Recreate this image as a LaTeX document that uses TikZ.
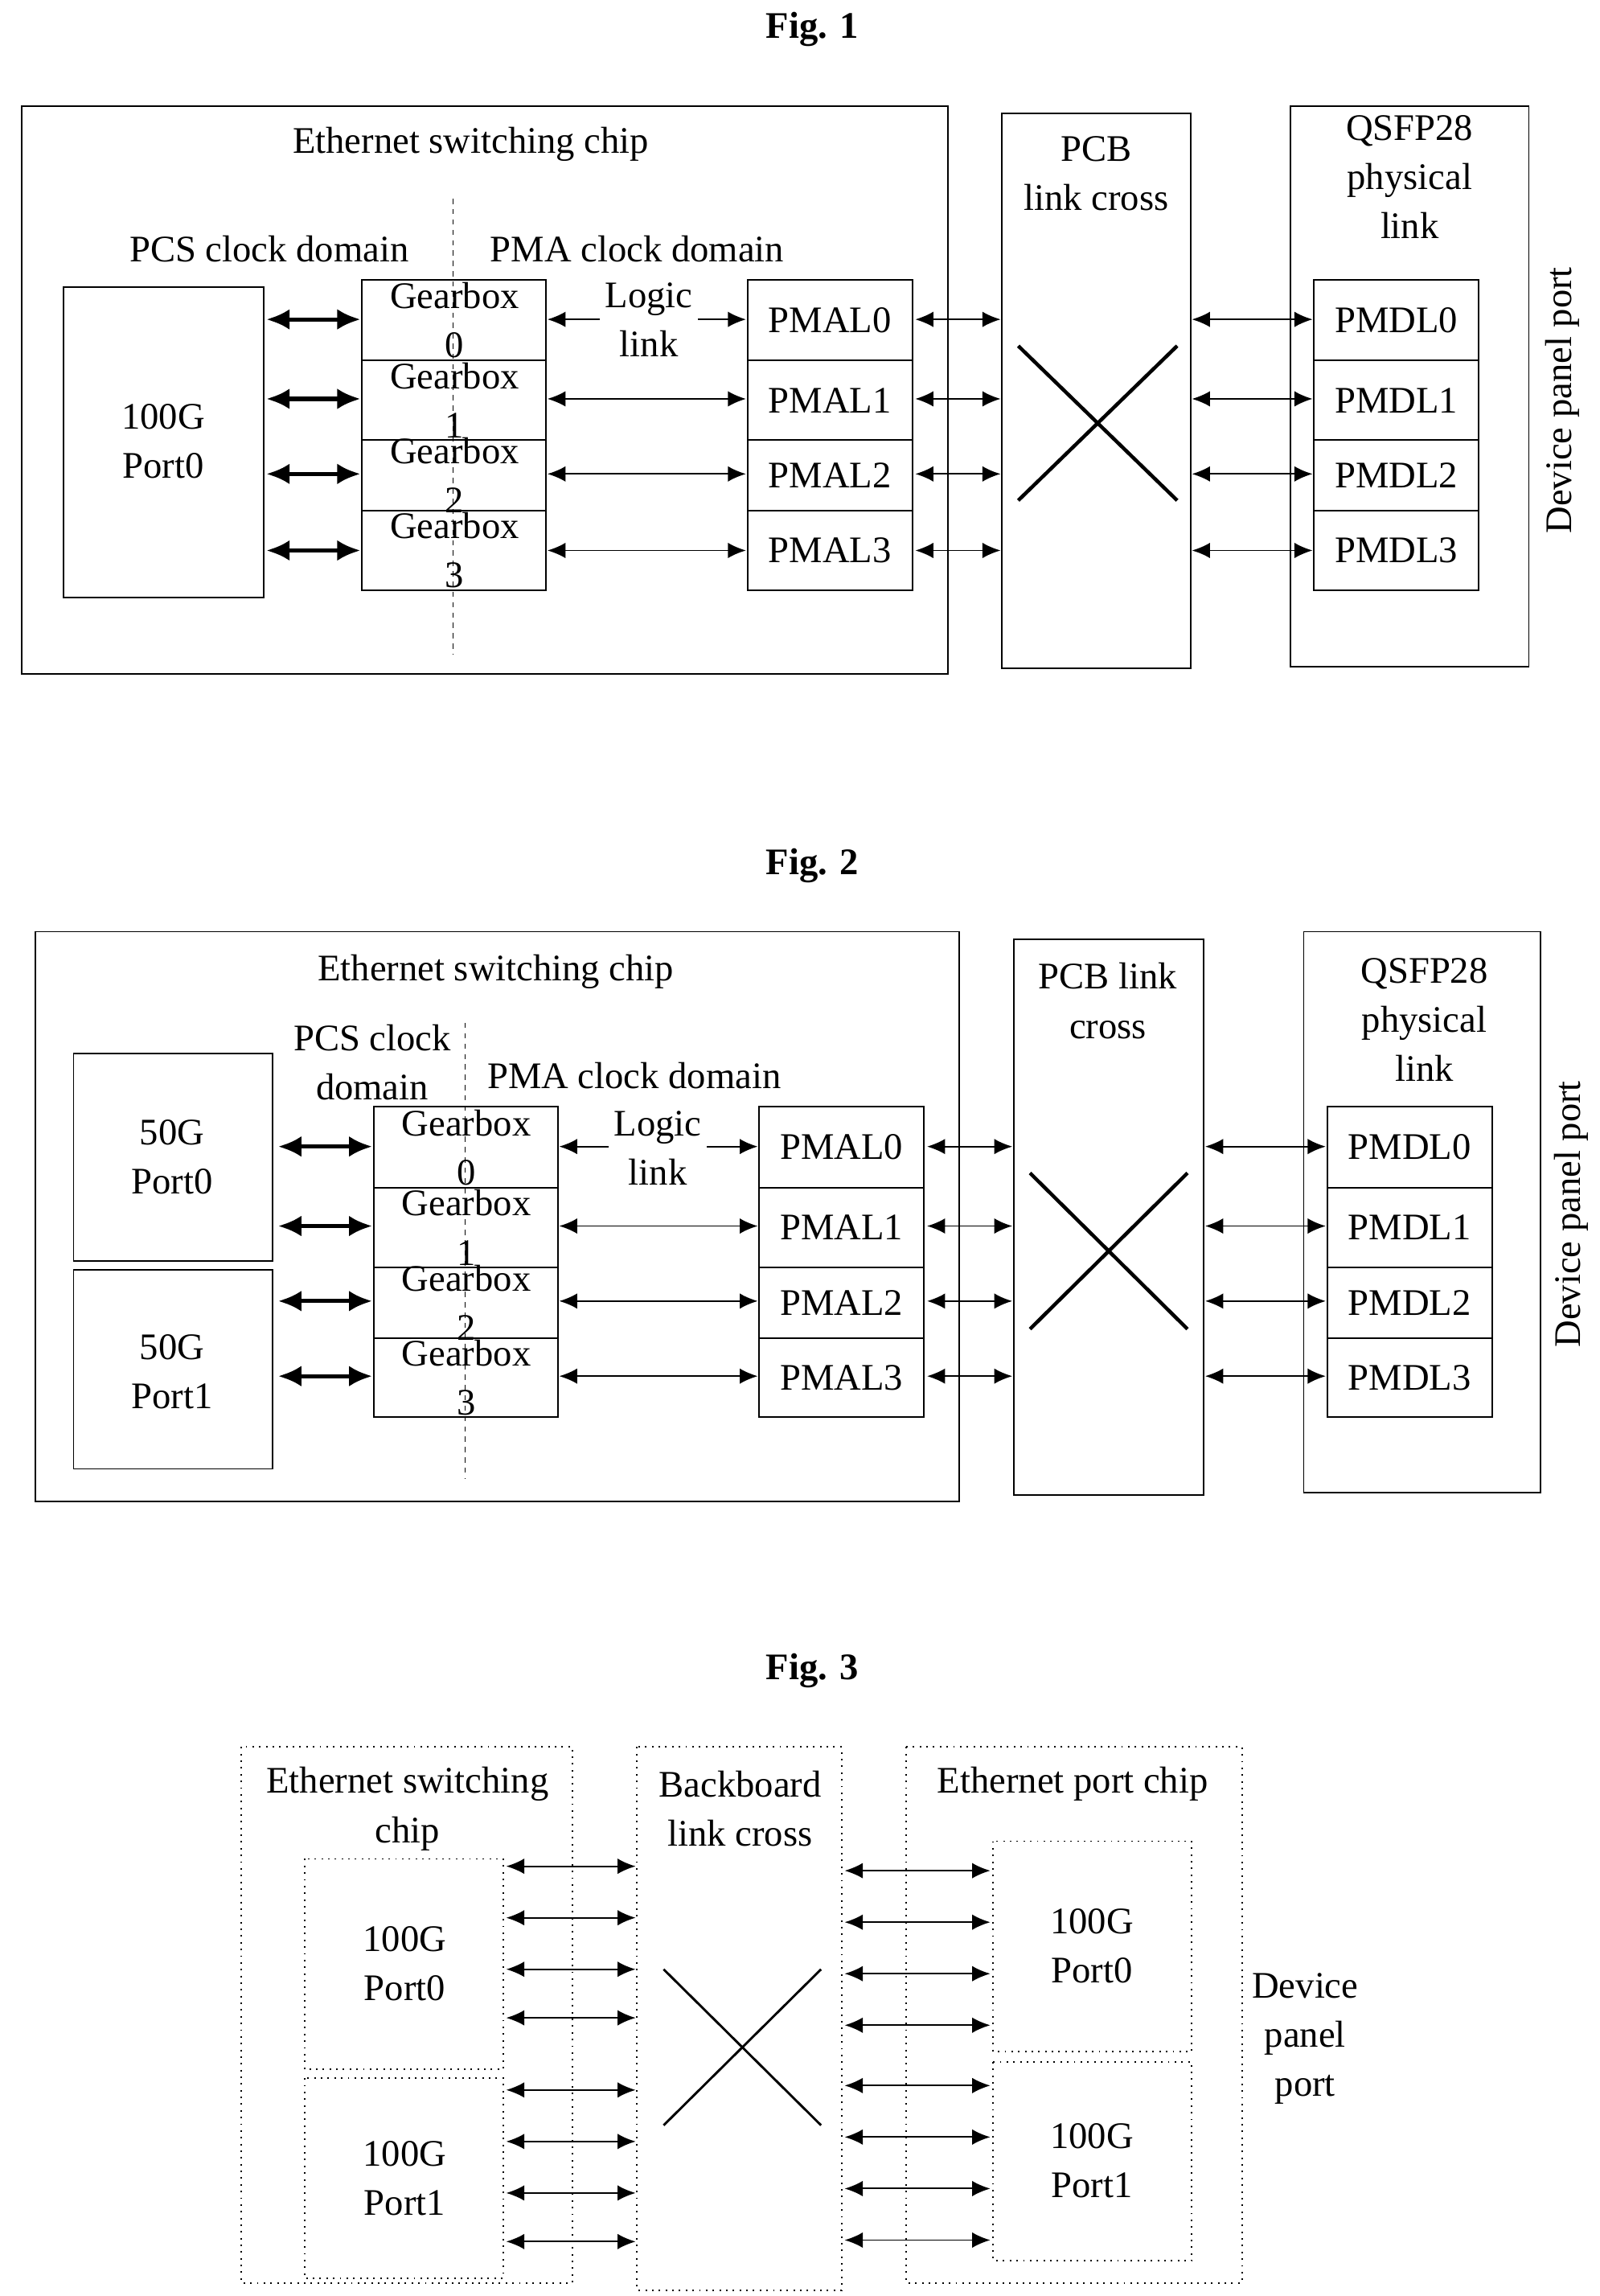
\documentclass[tikz,border=0pt]{standalone}
\usepackage{fontspec}
\setmainfont{Liberation Serif}
\usetikzlibrary{arrows.meta}
\begin{document}
\begin{tikzpicture}[x=0.02cm,y=-0.02cm,
  box/.style={draw,line width=0.6pt},
  dbox/.style={draw,line width=0.6pt,dotted},
  txt/.style={font=\fontsize{14.5}{19}\selectfont,align=center,inner sep=0pt},
  ttl/.style={font=\bfseries\fontsize{14.5}{17}\selectfont},
  thin/.style={{Latex[length=7pt,width=6pt]}-{Latex[length=7pt,width=6pt]},line width=0.6pt},
  thick/.style={{Latex[length=9pt,width=8pt]}-{Latex[length=9pt,width=8pt]},line width=1.6pt},
  cross/.style={line width=1.4pt}]
\useasboundingbox (0,0) rectangle (1087,1560);
% ---------- Fig 1
\node[ttl] (t1) at (552,20) {Fig. 1};
\draw[box] (15,72) rectangle (644,458);
\node[txt] (c1) at (320,98) {Ethernet switching chip};
\draw[dash pattern=on 2pt off 2pt,line width=0.4pt] (308,135) -- (308,445);
\node[txt] (pcs1) at (183,169) {PCS clock domain};
\node[txt] (pma1) at (433,169) {PMA clock domain};
\draw[box] (43,195) rectangle (179,406);
\node[txt] (p1) at (111,300) {100G\\Port0};
\foreach \a/\b/\i in {190/245/0,245/299/1,299/347/2,347/401/3}{
  \draw[box] (246,\a) rectangle (371,\b);
  \node[txt] (g1\i) at (309,{(\a+\b)/2}) {Gearbox\\\i};
  \draw[box] (508,\a) rectangle (620,\b);
  \node[txt] (pmal1\i) at (564,{(\a+\b)/2}) {PMAL\i};
  \draw[box] (893,\a) rectangle (1005,\b);
  \node[txt] (pmdl1\i) at (949,{(\a+\b)/2}) {PMDL\i};
}
\foreach \y in {217,271,322,374}{
  \draw[thick] (181,\y) -- (245,\y);
  \draw[thin] (372,\y) -- (507,\y);
  \draw[thin] (622,\y) -- (680,\y);
  \draw[thin] (810,\y) -- (892,\y);
}
\node[txt,fill=white,inner sep=2pt] (ll1) at (441,217) {Logic\\link};
\draw[box] (681,77) rectangle (809,454);
\node[txt] (pcb1) at (745,118) {PCB\\link cross};
\draw[cross] (692,235) -- (800,340) (692,340) -- (800,235);
\draw[box] (877,72) rectangle (1039,453);
\node[txt] (q1) at (958,120) {QSFP28\\physical\\link};
\node[txt,rotate=90] (d1) at (1062,272) {Device panel port};
% ---------- Fig 2
\node[ttl] (t2) at (552,588) {Fig. 2};
\draw[box] (24,633) rectangle (652,1020);
\node[txt] (c2) at (337,660) {Ethernet switching chip};
\draw[dash pattern=on 2pt off 2pt,line width=0.4pt] (316,695) -- (316,1005);
\node[txt] (pcs2) at (253,722) {PCS clock\\domain};
\node[txt] (pma2) at (431,731) {PMA clock domain};
\draw[box] (50,716) rectangle (185,857);
\node[txt] (p20) at (117,786) {50G\\Port0};
\draw[box] (50,863) rectangle (185,998);
\node[txt] (p21) at (117,932) {50G\\Port1};
\foreach \a/\b/\i in {752/807/0,807/861/1,861/909/2,909/963/3}{
  \draw[box] (254,\a) rectangle (379,\b);
  \node[txt] (g2\i) at (317,{(\a+\b)/2}) {Gearbox\\\i};
  \draw[box] (516,\a) rectangle (628,\b);
  \node[txt] (pmal2\i) at (572,{(\a+\b)/2}) {PMAL\i};
  \draw[box] (902,\a) rectangle (1014,\b);
  \node[txt] (pmdl2\i) at (958,{(\a+\b)/2}) {PMDL\i};
}
\foreach \y in {779,833,884,935}{
  \draw[thick] (189,\y) -- (253,\y);
  \draw[thin] (380,\y) -- (515,\y);
  \draw[thin] (630,\y) -- (688,\y);
  \draw[thin] (819,\y) -- (901,\y);
}
\node[txt,fill=white,inner sep=2pt] (ll2) at (447,780) {Logic\\link};
\draw[box] (689,638) rectangle (818,1016);
\node[txt] (pcb2) at (753,680) {PCB link\\cross};
\draw[cross] (700,797) -- (807,903) (700,903) -- (807,797);
\draw[box] (886,633) rectangle (1047,1014);
\node[txt] (q2) at (968,693) {QSFP28\\physical\\link};
\node[txt,rotate=90] (d2) at (1068,825) {Device panel port};
% ---------- Fig 3
\node[ttl] (t3) at (552,1135) {Fig. 3};
\draw[dbox] (164,1187) rectangle (389,1551);
\node[txt] (c3) at (277,1229) {Ethernet switching\\chip};
\draw[dbox] (207,1263) rectangle (342,1406);
\node[txt] (p30) at (275,1334) {100G\\Port0};
\draw[dbox] (207,1412) rectangle (342,1548);
\node[txt] (p31) at (275,1480) {100G\\Port1};
\draw[dbox] (433,1187) rectangle (572,1556);
\node[txt] (bb) at (503,1229) {Backboard\\link cross};
\draw[line width=0.9pt] (451,1338) -- (558,1444) (451,1444) -- (558,1338);
\draw[dbox] (616,1187) rectangle (844,1551);
\node[txt] (epc) at (729,1212) {Ethernet port chip};
\draw[dbox] (675,1251) rectangle (810,1394);
\node[txt] (p32) at (742,1322) {100G\\Port0};
\draw[dbox] (675,1401) rectangle (810,1536);
\node[txt] (p33) at (742,1468) {100G\\Port1};
\foreach \y in {1268,1303,1338,1371,1420,1455,1490,1523}{
  \draw[thin] (344,\y) -- (432,\y);
}
\foreach \y in {1271,1306,1341,1376,1417,1452,1487,1522}{
  \draw[thin] (574,\y) -- (673,\y);
}
\node[txt] (d3) at (887,1385) {Device\\panel\\port};
\end{tikzpicture}
\end{document}
